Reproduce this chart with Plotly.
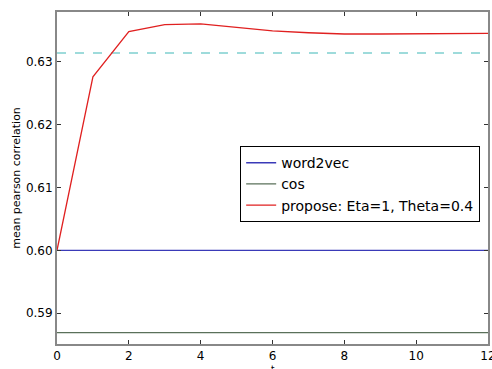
import plotly.graph_objects as go

t = list(range(13))
propose = [0.6000, 0.6276, 0.6348, 0.6359, 0.6360, 0.6355, 0.6349, 0.6346, 0.6344, 0.6344, 0.6344, 0.6345, 0.6345]
word2vec = [0.6000] * 13
cos_vals = [0.5869] * 13
ref_line = [0.63138] * 13

fig = go.Figure()
fig.add_trace(go.Scatter(x=t, y=ref_line, mode="lines", showlegend=False,
                         line=dict(color="#7fd0d0", width=1.5, dash="dash")))
fig.add_trace(go.Scatter(x=t, y=word2vec, mode="lines", name="word2vec",
                         line=dict(color="#3a3ab8", width=1.3)))
fig.add_trace(go.Scatter(x=t, y=cos_vals, mode="lines", name="cos",
                         line=dict(color="#5a705a", width=1.3)))
fig.add_trace(go.Scatter(x=t, y=propose, mode="lines", name="propose: Eta=1, Theta=0.4",
                         line=dict(color="#e02020", width=1.3)))

axis_common = dict(showgrid=False, zeroline=False, showline=True, linecolor="#888888",
                   linewidth=2, mirror="ticks", ticks="inside", ticklen=4,
                   tickcolor="#333333", tickfont=dict(size=12, color="black"),
                   automargin=False, ticklabeloverflow="allow")
fig.update_layout(
    width=492, height=369,
    margin=dict(l=57, r=4, t=12, b=25),
    paper_bgcolor="white", plot_bgcolor="white",
    font=dict(family="DejaVu Sans", color="black"),
    xaxis=dict(range=[0, 12], tickvals=[0, 2, 4, 6, 8, 10, 12], **axis_common),
    yaxis=dict(range=[0.5851, 0.6379], tickvals=[0.59, 0.60, 0.61, 0.62, 0.63],
               tickformat=".2f",
               title=dict(text="mean pearson correlation", font=dict(size=11), standoff=3),
               **axis_common),
    legend=dict(x=0.425, y=0.596, xanchor="left", yanchor="top",
                bgcolor="white", bordercolor="black", borderwidth=1,
                font=dict(size=14), itemwidth=30),
    annotations=[dict(text="t", xref="paper", yref="paper", x=0.5, y=-0.074,
                      xanchor="center", yanchor="middle", showarrow=False,
                      font=dict(size=9))],
)
fig.write_html("out.html", config={"displayModeBar": False},
               post_script="document.body.style.margin='0';document.body.style.overflow='hidden';")
